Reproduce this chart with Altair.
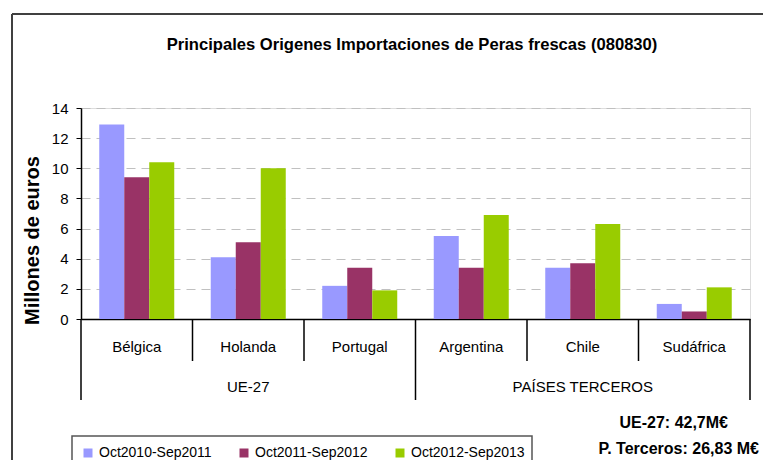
import altair as alt
import pandas as pd

# ---- data ----
countries = ["Bélgica", "Holanda", "Portugal", "Argentina", "Chile", "Sudáfrica"]
periods = ["Oct2010-Sep2011", "Oct2011-Sep2012", "Oct2012-Sep2013"]
v_2010_2011 = [12.9, 4.1, 2.2, 5.5, 3.4, 1.0]
v_2011_2012 = [9.4, 5.1, 3.4, 3.4, 3.7, 0.5]
v_2012_2013 = [10.4, 10.0, 1.9, 6.9, 6.3, 2.1]
groups = ["UE-27", "PAÍSES TERCEROS"]
group_mid = ["Holanda", "Chile"]
group_first = ["Bélgica", "Argentina"]
totals = ["UE-27: 42,7M€", "P. Terceros: 26,83 M€"]
y_ticks = [0, 2, 4, 6, 8, 10, 12, 14]
colors = ["#9999FF", "#993366", "#99CC00"]
title_text = ["Principales Origenes Importaciones de Peras frescas (080830)"]
y_title = "Millones de euros"

FONT = "Liberation Sans"
W, H = 669, 211

rows = []
for p, vals in zip(periods, [v_2010_2011, v_2011_2012, v_2012_2013]):
    for c, v in zip(countries, vals):
        rows.append({"country": c, "period": p, "value": v})
bars_df = pd.DataFrame(rows)

x_scale = alt.Scale(domain=countries, paddingInner=0, paddingOuter=0)


def xenc(band=None):
    kw = {}
    if band is not None:
        kw["bandPosition"] = band
    return alt.X("country:N", sort=countries, scale=x_scale, title=None,
                 axis=alt.Axis(labelAngle=0, ticks=False, tickSize=0, labelPadding=27,
                               labelBaseline="middle", labelFontSize=15, labelColor="#000",
                               domainColor="#000", domainWidth=1.5, grid=False,
                               labelFont=FONT),
                 **kw)


bars = alt.Chart(bars_df).mark_bar().encode(
    x=xenc(),
    xOffset=alt.XOffset("period:N", sort=periods,
                        scale=alt.Scale(paddingOuter=0.73, paddingInner=0)),
    y=alt.Y("value:Q", scale=alt.Scale(domain=[0, 14], nice=False),
            axis=alt.Axis(values=y_ticks, title=y_title, titleFontSize=20,
                          titleFontWeight="bold", titleFont=FONT, titleColor="#000",
                          titleX=-49, titleY=132, titleAngle=270,
                          titleAlign="center", titleBaseline="middle",
                          labelFontSize=15, labelFont=FONT, labelColor="#000",
                          labelPadding=8, tickSize=5, tickColor="#000",
                          domainColor="#000", domainWidth=1.5,
                          grid=True, gridColor="#c0c0c0", gridDash=[9, 6],
                          gridWidth=1.2)),
    color=alt.Color("period:N", sort=periods,
                    scale=alt.Scale(domain=periods, range=colors),
                    legend=alt.Legend(title=None, orient="none", legendX=0, legendY=338,
                                      direction="horizontal", symbolType="square",
                                      symbolSize=81, symbolStrokeWidth=0,
                                      labelFontSize=14, labelFont=FONT, labelColor="#000",
                                      columnPadding=25, labelOffset=4, padding=0)),
)

short_df = pd.DataFrame({"country": [c for c in countries if c not in group_first]})
long_df = pd.DataFrame({"country": group_first})
end_df = pd.DataFrame({"country": [countries[-1]]})

short_rules = alt.Chart(short_df).mark_rule(color="#000", strokeWidth=1.5).encode(
    x=xenc(0), y=alt.value(H), y2=alt.value(H + 42))
long_rules = alt.Chart(long_df).mark_rule(color="#000", strokeWidth=1.5).encode(
    x=xenc(0), y=alt.value(H), y2=alt.value(H + 81))
end_rule = alt.Chart(end_df).mark_rule(color="#000", strokeWidth=1.5).encode(
    x=xenc(1), y=alt.value(H), y2=alt.value(H + 81))

group_df = pd.DataFrame({"country": group_mid, "group": groups})
group_text = alt.Chart(group_df).mark_text(
    fontSize=15, font=FONT, color="#000", baseline="middle").encode(
    x=xenc(), y=alt.value(H + 68), text="group:N")

tot_df = pd.DataFrame({"t": totals})
tot1 = alt.Chart(tot_df.iloc[[0]]).mark_text(
    fontSize=16, font=FONT, fontWeight="bold", color="#000", align="right",
    baseline="alphabetic").encode(x=alt.value(647), y=alt.value(320), text="t:N")
tot2 = alt.Chart(tot_df.iloc[[1]]).mark_text(
    fontSize=16, font=FONT, fontWeight="bold", color="#000", align="right",
    baseline="alphabetic").encode(x=alt.value(678), y=alt.value(346), text="t:N")

title_df = pd.DataFrame({"t": title_text})
title_mark = alt.Chart(title_df).mark_text(
    fontSize=16.6, font=FONT, fontWeight="bold", color="#000", align="center",
    baseline="middle").encode(x=alt.value(331), y=alt.value(-63), text="t:N")

one = pd.DataFrame({"a": [0]})
legend_box = alt.Chart(one).mark_rect(filled=False, stroke="#555", strokeWidth=1.5).encode(
    x=alt.value(-9), x2=alt.value(451), y=alt.value(328), y2=alt.value(380))
frame_top = alt.Chart(one).mark_rule(color="#404040", strokeWidth=2).encode(
    x=alt.value(-69), x2=alt.value(720), y=alt.value(-94))
frame_left = alt.Chart(one).mark_rule(color="#404040", strokeWidth=2).encode(
    x=alt.value(-69), y=alt.value(-94), y2=alt.value(380))

chart = alt.layer(
    bars, short_rules, long_rules, end_rule, group_text, tot1, tot2, title_mark,
    legend_box, frame_top, frame_left
).properties(
    width=W, height=H,
    autosize=alt.AutoSizeParams(type="none"),
    padding={"left": 73, "top": 100, "right": 13, "bottom": 141},
).configure_view(
    stroke="#999999", strokeWidth=2, fill="white"
).configure(font=FONT, background="white")

chart.save("out.html", embed_options={"renderer": "svg", "actions": False})
